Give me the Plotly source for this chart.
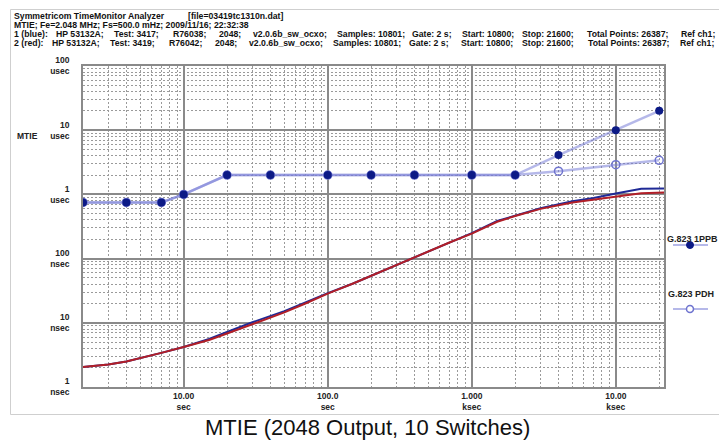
import plotly.graph_objects as go

# ---------------- data ----------------
tau = [2, 3, 4, 5, 7, 10, 15, 20, 30, 50, 70, 100, 150, 200, 300, 500, 700,
       1000, 1500, 2000, 3000, 5000, 7000, 10000, 15000, 21600]
mtie_blue_ns = [2.05, 2.25, 2.5, 2.8, 3.4, 4.2, 5.6, 7.2, 10.2, 15.2, 20.8, 29,
                41, 54, 80, 130, 180, 250, 385, 470, 610, 780, 880, 1030, 1220, 1240]
mtie_red_ns = [2.05, 2.25, 2.5, 2.8, 3.4, 4.2, 5.4, 6.8, 9.4, 14.5, 20, 28.5,
               41, 54, 80, 130, 178, 245, 375, 460, 595, 750, 825, 935, 1040, 1070]

mask_tau = [2, 4, 7, 10, 20, 40, 100, 200, 400, 1000, 2000, 4000, 10000, 20000]
mask_1ppb_us = [0.75, 0.75, 0.75, 1, 2, 2, 2, 2, 2, 2, 2, 4.1, 10, 20]
mask_pdh_us = [0.75, 0.75, 0.75, 1, 2, 2, 2, 2, 2, 2, 2, 2.3, 2.9, 3.4]

x_tickvals = [10, 100, 1000, 10000]
x_ticktext = ["10.00<br>sec", "100.0<br>sec", "1.000<br>ksec", "10.00<br>ksec"]
y_tickvals = [1, 10, 100, 1000, 10000, 100000]
y_ticktext = ["1<br>nsec", "10<br>nsec", "100<br>nsec", "1<br>usec", "10<br>usec", "100<br>usec"]

header_line1 = ["Symmetricom TimeMonitor Analyzer", "[file=03419tc1310n.dat]"]
header_line2 = ["MTIE; Fe=2.048 MHz; Fs=500.0 mHz; 2009/11/16; 22:32:38"]
header_line3 = ["1 (blue):", "HP 53132A;", "Test: 3417;", "R76038;", "2048;", "v2.0.6b_sw_ocxo;",
                "Samples: 10801;", "Gate: 2 s;", "Start: 10800;", "Stop: 21600;",
                "Total Points: 26387;", "Ref ch1;"]
header_line4 = ["2 (red):", "HP 53132A;", "Test: 3419;", "R76042;", "2048;", "v2.0.6b_sw_ocxo;",
                "Samples: 10801;", "Gate: 2 s;", "Start: 10800;", "Stop: 21600;",
                "Total Points: 26387;", "Ref ch1;"]
caption = "MTIE (2048 Output, 10 Switches)"
legend_names = ["G.823 1PPB", "G.823 PDH"]

# ---------------- layout geometry ----------------
W, H = 719, 441
ML, MR, MT, MB = 83, 55, 66, 54
PW, PH = W - ML - MR, H - MT - MB


def px2x(px):
    return (px - ML) / PW


def py2y(py):
    return (H - MB - py) / PH


FONT = "Liberation Sans, Arial, sans-serif"
MASK_LINE = "rgba(120,125,215,0.55)"
MASK_MARK = "#0c1a86"
BLUE = "#1f2a96"
RED = "#b11f28"

fig = go.Figure()

fig.add_trace(go.Scatter(
    x=mask_tau, y=[v * 1000 for v in mask_pdh_us], mode="lines+markers",
    line=dict(color=MASK_LINE, width=2.5),
    marker=dict(symbol="circle-open", size=8, color="#6f74cf", line=dict(width=1.5)),
    name=legend_names[1], showlegend=False))
fig.add_trace(go.Scatter(
    x=mask_tau, y=[v * 1000 for v in mask_1ppb_us], mode="lines+markers",
    line=dict(color=MASK_LINE, width=2.5),
    marker=dict(symbol="circle", size=8, color=MASK_MARK),
    name=legend_names[0], showlegend=False))
fig.add_trace(go.Scatter(
    x=tau, y=mtie_blue_ns, mode="lines", line=dict(color=BLUE, width=2),
    name="1 (blue)", showlegend=False))
fig.add_trace(go.Scatter(
    x=tau, y=mtie_red_ns, mode="lines", line=dict(color=RED, width=2),
    name="2 (red)", showlegend=False))


def minor_vals(lo, hi):
    out = []
    for e in range(lo, hi):
        for m in range(2, 10):
            out.append(m * 10 ** e)
    return out


tickfont = dict(family=FONT, size=8.5, color="#222", weight="bold")

fig.update_xaxes(
    type="log", range=[0.30103, 4.33445],
    tickvals=x_tickvals, ticktext=x_ticktext, tickfont=tickfont,
    showgrid=True, gridcolor="#8a8a8a", gridwidth=1.5,
    showline=True, linecolor="#8a8a8a", linewidth=1.5, mirror=True,
    ticks="", ticklabelstandoff=0, zeroline=False,
    minor=dict(tickvals=minor_vals(0, 5), showgrid=True, gridcolor="#9a9a9a",
               gridwidth=1, griddash="2px,2px"),
)
fig.update_yaxes(
    type="log", range=[0, 5],
    tickvals=y_tickvals, ticktext=y_ticktext, tickfont=tickfont,
    showgrid=True, gridcolor="#8a8a8a", gridwidth=1.5,
    showline=True, linecolor="#8a8a8a", linewidth=1.5, mirror=True,
    ticks="", ticklabelstandoff=10, zeroline=False,
    minor=dict(tickvals=minor_vals(0, 5), showgrid=True, gridcolor="#9a9a9a",
               gridwidth=1, griddash="2px,2px"),
)

annotations = []
HFONT = dict(family=FONT, size=8.7, color="#111", weight="bold")


def header(tokens, xs, yy):
    for t, xx in zip(tokens, xs):
        annotations.append(dict(
            text=t, xref="paper", yref="paper", x=px2x(xx), y=py2y(yy),
            xanchor="left", yanchor="middle", showarrow=False, font=HFONT))


header(header_line1, [12, 186], 15.5)
header(header_line2, [12], 24.7)
header(header_line3, [12, 54, 112, 171, 217, 251, 335, 410, 460, 520, 585, 679], 33.8)
header(header_line4, [12, 50, 108, 167, 213, 247, 331, 407, 459, 520, 586, 678], 42.8)

annotations.append(dict(
    text="MTIE", xref="paper", yref="paper", x=px2x(27), y=py2y(136),
    xanchor="center", yanchor="middle", showarrow=False,
    font=dict(family=FONT, size=8.5, color="#222", weight="bold")))

annotations.append(dict(
    text=caption, xref="paper", yref="paper", x=px2x(367.5), y=py2y(428),
    xanchor="center", yanchor="middle", showarrow=False,
    font=dict(family=FONT, size=22, color="#111")))

annotations.append(dict(
    text=legend_names[0], xref="paper", yref="paper", x=px2x(692), y=py2y(239),
    xanchor="center", yanchor="middle", showarrow=False,
    font=dict(family=FONT, size=9, color="#222", weight="bold")))
annotations.append(dict(
    text=legend_names[1], xref="paper", yref="paper", x=px2x(691), y=py2y(294),
    xanchor="center", yanchor="middle", showarrow=False,
    font=dict(family=FONT, size=9, color="#222", weight="bold")))

shapes = [
    dict(type="rect", xref="paper", yref="paper",
         x0=px2x(10.5), x1=px2x(740), y0=py2y(414.5), y1=py2y(9.5),
         line=dict(color="#cfcfcf", width=1), fillcolor="rgba(0,0,0,0)", layer="below"),
    # legend 1PPB
    dict(type="line", xref="paper", yref="paper",
         x0=px2x(673), x1=px2x(708), y0=py2y(245), y1=py2y(245),
         line=dict(color=MASK_LINE, width=2)),
    dict(type="circle", xref="paper", yref="paper",
         x0=px2x(686.5), x1=px2x(693.5), y0=py2y(248.5), y1=py2y(241.5),
         line=dict(color=MASK_MARK, width=1), fillcolor=MASK_MARK),
    # legend PDH
    dict(type="line", xref="paper", yref="paper",
         x0=px2x(673), x1=px2x(708), y0=py2y(309), y1=py2y(309),
         line=dict(color=MASK_LINE, width=2)),
    dict(type="circle", xref="paper", yref="paper",
         x0=px2x(686.5), x1=px2x(693.5), y0=py2y(312.5), y1=py2y(305.5),
         line=dict(color="#6f74cf", width=1.5), fillcolor="white"),
]

fig.update_layout(
    width=W, height=H,
    margin=dict(l=ML, r=MR, t=MT, b=MB, pad=0),
    paper_bgcolor="white", plot_bgcolor="white",
    showlegend=False,
    annotations=annotations, shapes=shapes,
    font=dict(family=FONT),
)

fig.write_html("out.html", include_plotlyjs=True, config={"displayModeBar": False})
